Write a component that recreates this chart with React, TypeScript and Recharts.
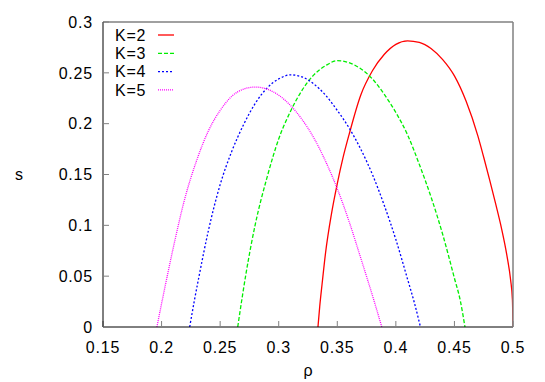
import { Legend, Line, LineChart, XAxis, YAxis } from 'recharts'

// values (rho on x, s on y)
const RHO_K2 = [0.3335, 0.335, 0.337, 0.34, 0.345, 0.35, 0.355, 0.36, 0.37, 0.38, 0.39, 0.4, 0.41, 0.42, 0.43, 0.44, 0.45, 0.46, 0.47, 0.475, 0.48, 0.485, 0.49, 0.495, 0.498, 0.4995, 0.5]
const S_K2 = [0, 0.02, 0.042, 0.073, 0.111, 0.141, 0.167, 0.189, 0.228, 0.252, 0.268, 0.278, 0.2815, 0.28, 0.274, 0.263, 0.247, 0.222, 0.188, 0.167, 0.145, 0.122, 0.098, 0.069, 0.046, 0.027, 0]

const RHO_K3 = [0.265, 0.268, 0.272, 0.28, 0.29, 0.3, 0.31, 0.32, 0.33, 0.34, 0.35, 0.36, 0.37, 0.38, 0.39, 0.4, 0.41, 0.42, 0.43, 0.44, 0.45, 0.455, 0.459]
const S_K3 = [0, 0.023, 0.052, 0.101, 0.147, 0.185, 0.212, 0.233, 0.248, 0.257, 0.262, 0.26, 0.254, 0.244, 0.229, 0.211, 0.189, 0.16, 0.128, 0.091, 0.048, 0.026, 0]

const RHO_K4 = [0.224, 0.228, 0.232, 0.24, 0.25, 0.26, 0.27, 0.28, 0.29, 0.3, 0.31, 0.32, 0.33, 0.34, 0.35, 0.36, 0.37, 0.38, 0.39, 0.4, 0.41, 0.416, 0.421]
const S_K4 = [0, 0.026, 0.05, 0.095, 0.14, 0.173, 0.199, 0.22, 0.235, 0.244, 0.248, 0.246, 0.239, 0.228, 0.213, 0.196, 0.175, 0.15, 0.12, 0.086, 0.047, 0.023, 0]

const RHO_K5 = [0.196, 0.2, 0.205, 0.21, 0.22, 0.23, 0.24, 0.25, 0.26, 0.27, 0.28, 0.29, 0.3, 0.31, 0.32, 0.33, 0.34, 0.35, 0.36, 0.37, 0.38, 0.388]
const S_K5 = [0, 0.023, 0.051, 0.078, 0.127, 0.164, 0.193, 0.213, 0.227, 0.234, 0.236, 0.234, 0.228, 0.218, 0.204, 0.186, 0.163, 0.136, 0.104, 0.068, 0.031, 0]

const X_TICKS = [0.15, 0.2, 0.25, 0.3, 0.35, 0.4, 0.45, 0.5]
const Y_TICKS = [0, 0.05, 0.1, 0.15, 0.2, 0.25, 0.3]

const FONT = '"Liberation Sans", Arial, sans-serif'
const TICK_STYLE = { fontSize: 16, fill: '#000', fontFamily: FONT, letterSpacing: 0.8 }
const FRAME_GRAY = '#808080'

const toPoints = (rho: number[], s: number[]) => rho.map((r, i) => ({ rho: r, s: s[i] }))

const SERIES = [
  { name: 'K=2', points: toPoints(RHO_K2, S_K2), color: '#ff0000', dash: undefined },
  { name: 'K=3', points: toPoints(RHO_K3, S_K3), color: '#00ee00', dash: '4 2' },
  { name: 'K=4', points: toPoints(RHO_K4, S_K4), color: '#0000ff', dash: '2 2' },
  { name: 'K=5', points: toPoints(RHO_K5, S_K5), color: '#ff00ff', dash: '1 1' },
]

function KeyBox() {
  return (
    <svg width={80} height={80} style={{ display: 'block' }}>
      {SERIES.map((sr, i) => {
        const y = 9 + i * 18.3
        return (
          <g key={sr.name}>
            <text
              x={2}
              y={y}
              dy="0.36em"
              fontSize={16}
              fontFamily={FONT}
              letterSpacing={0.8}
              fill="#000"
            >
              {sr.name}
            </text>
            <line
              x1={45}
              x2={61}
              y1={y}
              y2={y}
              stroke={sr.color}
              strokeWidth={1.3}
              strokeDasharray={sr.dash}
            />
          </g>
        )
      })}
    </svg>
  )
}

export default function App() {
  return (
    <div style={{ position: 'absolute', left: 0, top: 0 }}>
      <LineChart width={545} height={382} margin={{ top: 0, right: 0, bottom: 0, left: 0 }}>
        <XAxis
          xAxisId={0}
          dataKey="rho"
          type="number"
          domain={[0.15, 0.5]}
          ticks={X_TICKS}
          allowDataOverflow
          height={55}
          tick={TICK_STYLE}
          tickSize={-6}
          tickMargin={21}
          tickLine={{ stroke: FRAME_GRAY }}
          axisLine={{ stroke: '#000' }}
          label={{ value: 'ρ', position: 'insideBottom', offset: 6, fontSize: 16, fill: '#000', fontFamily: FONT }}
        />
        <XAxis
          xAxisId="top"
          orientation="top"
          type="number"
          domain={[0.15, 0.5]}
          ticks={X_TICKS}
          allowDataOverflow
          height={22}
          tick={false}
          tickSize={-6}
          tickLine={{ stroke: FRAME_GRAY }}
          axisLine={{ stroke: FRAME_GRAY, strokeWidth: 1.5 }}
        />
        <YAxis
          yAxisId={0}
          type="number"
          domain={[0, 0.3]}
          ticks={Y_TICKS}
          allowDataOverflow
          width={103}
          tick={TICK_STYLE}
          tickSize={-6}
          tickMargin={16}
          tickLine={{ stroke: FRAME_GRAY }}
          axisLine={{ stroke: '#000' }}
          label={{ value: 's', position: 'insideLeft', offset: 15, fontSize: 16, fill: '#000', fontFamily: FONT }}
        />
        <YAxis
          yAxisId="right"
          orientation="right"
          type="number"
          domain={[0, 0.3]}
          ticks={Y_TICKS}
          allowDataOverflow
          width={32}
          tick={false}
          tickSize={-6}
          tickLine={{ stroke: FRAME_GRAY }}
          axisLine={{ stroke: FRAME_GRAY, strokeWidth: 1.5 }}
        />
        <Legend
          layout="vertical"
          align="center"
          verticalAlign="middle"
          content={() => <KeyBox />}
          wrapperStyle={{ top: 26, left: 113, width: 80, height: 80 }}
        />
        {SERIES.map((sr) => (
          <Line
            key={sr.name}
            name={sr.name}
            data={sr.points}
            dataKey="s"
            type="monotone"
            stroke={sr.color}
            strokeWidth={1.3}
            strokeDasharray={sr.dash}
            dot={false}
            activeDot={false}
            isAnimationActive={false}
          />
        ))}
      </LineChart>
    </div>
  )
}
